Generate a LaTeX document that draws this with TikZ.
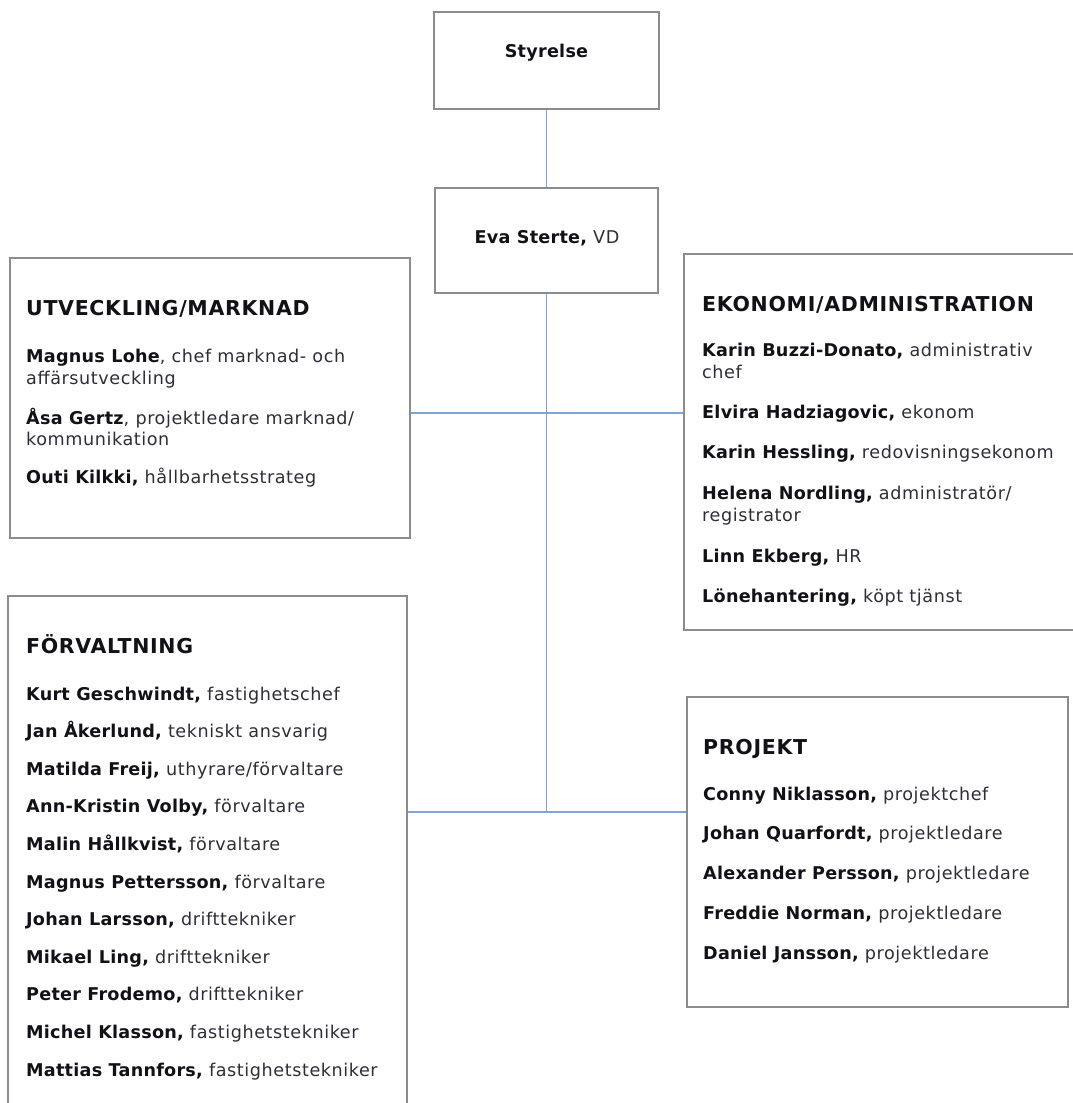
\documentclass[tikz,border=0pt]{standalone}
\usepackage{fontspec}
\setmainfont{DejaVu Sans}[LetterSpace=3.3,BoldFeatures={LetterSpace=1.4}]
\newfontfamily\headfont{DejaVu Sans}[LetterSpace=3.4,BoldFeatures={LetterSpace=3.4}]
\definecolor{boxline}{HTML}{8C8C8C}
\definecolor{linkline}{HTML}{7FA3D8}
\definecolor{roletext}{HTML}{2E2E3A}
\definecolor{nametext}{HTML}{111118}
\newcommand{\nm}[1]{\textbf{\color{nametext}#1}}
\begin{document}
\begin{tikzpicture}[x=1pt,y=-1pt,
  unit/.style={draw=boxline,line width=1.6pt,fill=white,rectangle,inner sep=0pt},
  link/.style={draw=linkline,line width=1.8pt},
  entry/.style={anchor=base west,inner sep=0pt,text=roletext,font=\fontsize{17.6}{22}\selectfont},
  centred/.style={anchor=base,inner sep=0pt,text=roletext,font=\fontsize{17.6}{22}\selectfont},
  heading/.style={anchor=base west,inner sep=0pt,text=nametext,font=\headfont\fontsize{20.5}{24}\selectfont\bfseries}]
\clip (0,0) rectangle (1073,1103);
\fill[white] (0,0) rectangle (1073,1103);

% boxes
\node[unit,minimum width=225pt,minimum height=97pt] (sty) at (546.5,60.5) {};
\node[unit,minimum width=223pt,minimum height=105pt] (eva) at (546.5,240.5) {};
\node[unit,minimum width=400pt,minimum height=280pt] (utv) at (210,398) {};
\node[unit,minimum width=396pt,minimum height=376pt] (eko) at (882,442) {};
\node[unit,minimum width=399pt,minimum height=528pt] (forv) at (207.5,860) {};
\node[unit,minimum width=381pt,minimum height=310pt] (proj) at (877.5,852) {};

% connectors
\coordinate (hubA) at (546.5,413);
\coordinate (hubB) at (546.5,812);
\draw[link] (sty.south) -- (eva.north);
\draw[link] (eva.south) -- (hubB);
\draw[link] (utv.east |- hubA) -- (eko.west |- hubA);
\draw[link] (forv.east |- hubB) -- (proj.west |- hubB);

% top boxes
\node[centred] (styT) at (546.5,57) {\nm{Styrelse}};
\node[centred] (evaT) at (547,243) {\nm{Eva Sterte,} VD};

% UTVECKLING/MARKNAD
\node[heading] (utvH) at (26,315) {UTVECKLING/MARKNAD};
\node[entry] (utv1) at (26,362) {\nm{Magnus Lohe}, chef marknad- och};
\node[entry] (utv1b) at (26,384) {affärsutveckling};
\node[entry] (utv2) at (26,424) {\nm{Åsa Gertz}, projektledare marknad/};
\node[entry] (utv2b) at (26,445) {kommunikation};
\node[entry] (utv3) at (26,483) {\nm{Outi Kilkki,} hållbarhetsstrateg};

% EKONOMI/ADMINISTRATION
\node[heading] (ekoH) at (702,311) {EKONOMI/ADMINISTRATION};
\node[entry] (eko1) at (702,356) {\nm{Karin Buzzi-Donato,} administrativ};
\node[entry] (eko1b) at (702,378) {chef};
\node[entry] (eko2) at (702,418) {\nm{Elvira Hadziagovic,} ekonom};
\node[entry] (eko3) at (702,458) {\nm{Karin Hessling,} redovisningsekonom};
\node[entry] (eko4) at (702,499) {\nm{Helena Nordling,} administratör/};
\node[entry] (eko4b) at (702,521) {registrator};
\node[entry] (eko5) at (702,562) {\nm{Linn Ekberg,} HR};
\node[entry] (eko6) at (702,602) {\nm{Lönehantering,} köpt tjänst};

% FÖRVALTNING
\node[heading] (forvH) at (26,653) {FÖRVALTNING};
\foreach \txt [count=\i] in {
  {\nm{Kurt Geschwindt,} fastighetschef},
  {\nm{Jan Åkerlund,} tekniskt ansvarig},
  {\nm{Matilda Freij,} uthyrare/förvaltare},
  {\nm{Ann-Kristin Volby,} förvaltare},
  {\nm{Malin Hållkvist,} förvaltare},
  {\nm{Magnus Pettersson,} förvaltare},
  {\nm{Johan Larsson,} drifttekniker},
  {\nm{Mikael Ling,} drifttekniker},
  {\nm{Peter Frodemo,} drifttekniker},
  {\nm{Michel Klasson,} fastighetstekniker},
  {\nm{Mattias Tannfors,} fastighetstekniker}}
  \node[entry] (forv\i) at (26,{700+37.6*(\i-1)}) {\txt};

% PROJEKT
\node[heading] (projH) at (703,754) {PROJEKT};
\foreach \txt [count=\i] in {
  {\nm{Conny Niklasson,} projektchef},
  {\nm{Johan Quarfordt,} projektledare},
  {\nm{Alexander Persson,} projektledare},
  {\nm{Freddie Norman,} projektledare},
  {\nm{Daniel Jansson,} projektledare}}
  \node[entry] (proj\i) at (703,{800+39.8*(\i-1)}) {\txt};
\end{tikzpicture}
\end{document}
